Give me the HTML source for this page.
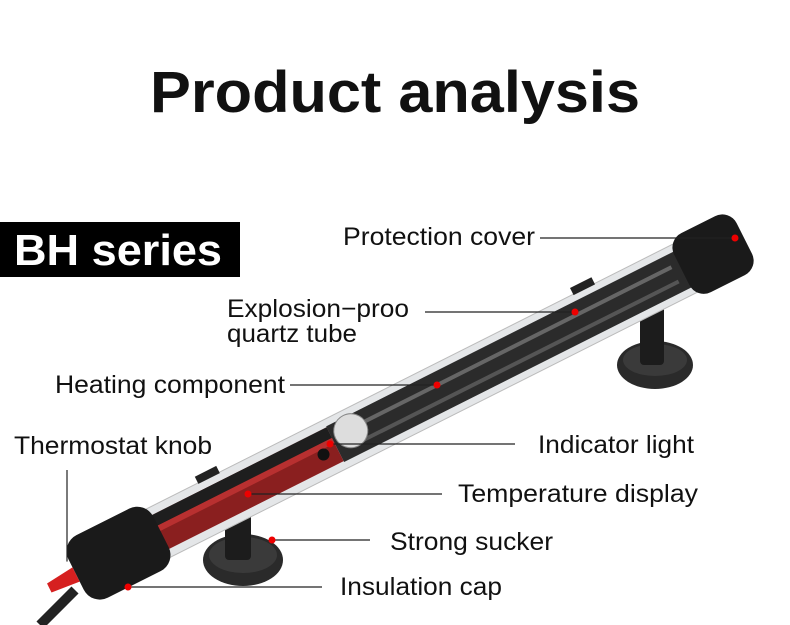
<!DOCTYPE html>
<html><head><meta charset="utf-8"><style>
html,body{margin:0;padding:0;background:#fff;}
svg{display:block;font-family:"Liberation Sans",sans-serif;}
</style></head><body>
<svg width="790" height="625" viewBox="0 0 790 625" xmlns="http://www.w3.org/2000/svg">
<rect width="790" height="625" fill="#fff"/>
<text x="395" y="112" text-anchor="middle" font-size="58" font-weight="bold" fill="#111" textLength="490" lengthAdjust="spacingAndGlyphs">Product analysis</text>
<rect x="0" y="222" width="240" height="55" fill="#000"/>
<text x="14" y="265" font-size="44" font-weight="bold" fill="#fff" textLength="208" lengthAdjust="spacingAndGlyphs">BH series</text>

<path d="M75,590 Q55,610 40,625" stroke="#222" stroke-width="10" fill="none"/>
<ellipse cx="243" cy="560" rx="40" ry="26" fill="#2a2a2a"/>
<ellipse cx="243" cy="555" rx="34" ry="18" fill="#3a3a3a"/>
<rect x="225" y="500" width="26" height="60" rx="4" fill="#1c1c1c"/>
<ellipse cx="655" cy="365" rx="38" ry="24" fill="#2a2a2a"/>
<ellipse cx="655" cy="360" rx="32" ry="16" fill="#3a3a3a"/>
<rect x="640" y="305" width="24" height="60" rx="4" fill="#1c1c1c"/>

<g transform="translate(85,570) rotate(-26.7)">
  <rect x="0" y="-27" width="700" height="54" rx="6" fill="#e4e6e8" stroke="#bbb" stroke-width="1"/>
  <rect x="80" y="-19" width="200" height="38" fill="#8a1f1f"/>
  <rect x="80" y="-19" width="200" height="12" fill="#1e1e1e"/>
  <rect x="80" y="-7" width="200" height="6" fill="#b83030"/>
  <rect x="280" y="-20" width="390" height="40" fill="#2b2b2b"/>
  <rect x="300" y="-9" width="360" height="4" fill="#666"/>
  <rect x="300" y="7" width="360" height="4" fill="#555"/>
  <circle cx="300" cy="-5" r="17" fill="#ddd" stroke="#888"/>
  <circle cx="265" cy="4" r="6" fill="#111"/>
  <rect x="-10" y="-35" width="95" height="70" rx="18" fill="#1a1a1a"/>
  <polygon points="-10,-8 -40,-5 -40,5 -10,8" fill="#d62020"/>
  <rect x="668" y="-33" width="70" height="66" rx="16" fill="#1a1a1a"/>
  <rect x="140" y="-34" width="24" height="8" fill="#222"/>
  <rect x="560" y="-34" width="24" height="8" fill="#222"/>
</g>

<g stroke="#222" stroke-width="1.2">
<line x1="540" y1="238" x2="735" y2="238"/>
<line x1="425" y1="312" x2="575" y2="312"/>
<line x1="290" y1="385" x2="437" y2="385"/>
<line x1="67" y1="470" x2="67" y2="565"/>
<line x1="330" y1="444" x2="515" y2="444"/>
<line x1="248" y1="494" x2="442" y2="494"/>
<line x1="272" y1="540" x2="370" y2="540"/>
<line x1="128" y1="587" x2="322" y2="587"/>
</g>
<g fill="#e00">
<circle cx="735" cy="238" r="3.5"/><circle cx="575" cy="312" r="3.5"/><circle cx="437" cy="385" r="3.5"/>
<circle cx="67" cy="565" r="3.5" fill="#fff"/><circle cx="330" cy="444" r="3.5"/><circle cx="248" cy="494" r="3.5"/>
<circle cx="272" cy="540" r="3.5"/><circle cx="128" cy="587" r="3.5"/>
</g>
<g font-size="25" fill="#111">
<text x="343" y="245" textLength="192" lengthAdjust="spacingAndGlyphs">Protection cover</text>
<text x="227" y="317" textLength="182" lengthAdjust="spacingAndGlyphs">Explosion−proo</text>
<text x="227" y="342" textLength="130" lengthAdjust="spacingAndGlyphs">quartz tube</text>
<text x="55" y="393" textLength="230" lengthAdjust="spacingAndGlyphs">Heating component</text>
<text x="14" y="454" textLength="198" lengthAdjust="spacingAndGlyphs">Thermostat knob</text>
<text x="538" y="453" textLength="156" lengthAdjust="spacingAndGlyphs">Indicator light</text>
<text x="458" y="502" textLength="240" lengthAdjust="spacingAndGlyphs">Temperature display</text>
<text x="390" y="550" textLength="163" lengthAdjust="spacingAndGlyphs">Strong sucker</text>
<text x="340" y="595" textLength="162" lengthAdjust="spacingAndGlyphs">Insulation cap</text>
</g>
</svg>
</body></html>
